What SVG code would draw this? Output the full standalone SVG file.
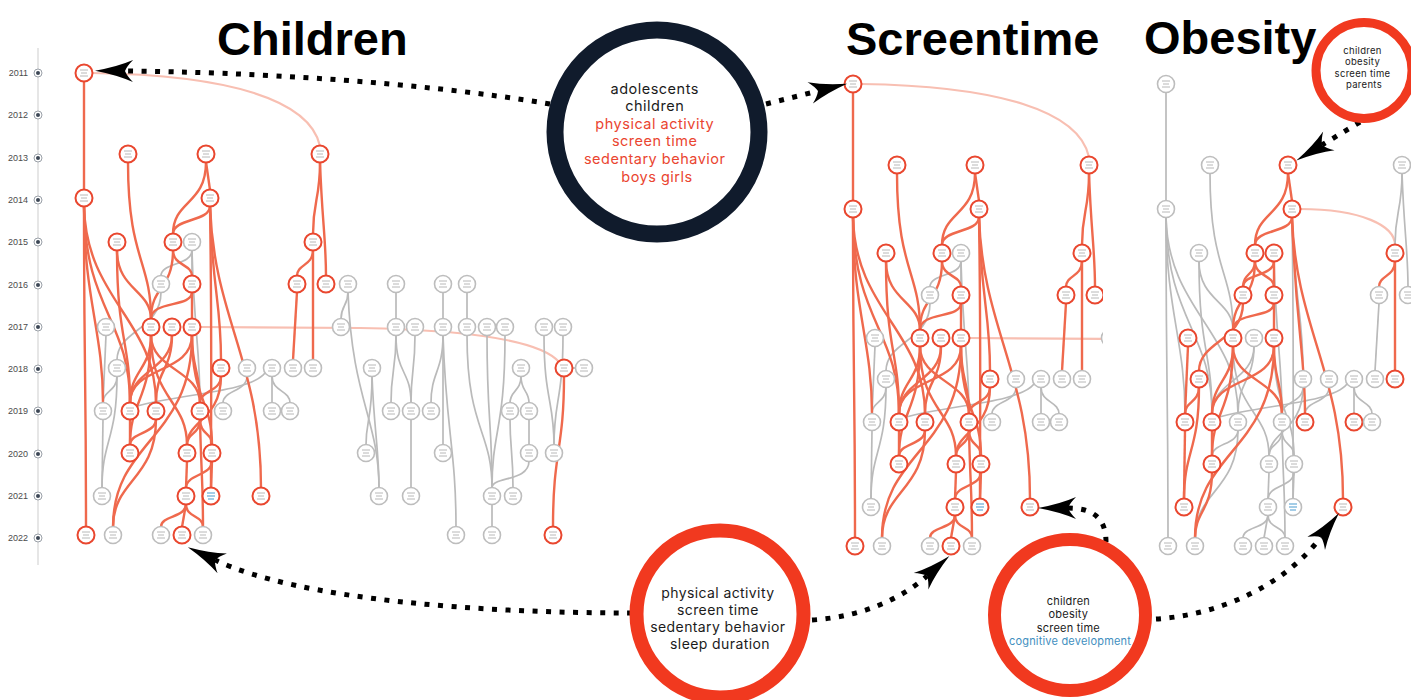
<svg xmlns="http://www.w3.org/2000/svg" width="1411" height="700" viewBox="0 0 1411 700">
<style>
.r{fill:none;stroke:#ef694d;stroke-width:2.4}
.g{fill:none;stroke:#bababa;stroke-width:1.7}
.p{fill:none;stroke:#f8bfb2;stroke-width:2.2}
.nr{stroke:#e9472f;stroke-width:2}
.ng{stroke:#bdbdbd;stroke-width:1.6}
.dot{fill:none;stroke:#000;stroke-width:5;stroke-dasharray:5 8.5;marker-end:url(#ah)}
.ttl{font-family:"Liberation Sans",Arial,Helvetica,sans-serif;font-weight:700;font-size:47px;fill:#000}
.yr{font-family:"Liberation Sans",Arial,sans-serif;font-size:9px;fill:#4b4b4b;text-anchor:end}
.bt{font-family:Inter,"Liberation Sans",sans-serif;text-anchor:middle}
.dk{fill:#1b1b1b}
.rd{fill:#ea4530}
.bl{fill:#3f8fc0}
</style>
<defs>
<marker id="ah" viewBox="-10 -13 42 26" refX="0" refY="0" markerWidth="42" markerHeight="26" markerUnits="userSpaceOnUse" orient="auto">
<path d="M30,0 Q8,-4 -8,-11 Q-2,-5 0,0 Q-2,5 -8,11 Q8,4 30,0 Z" fill="#000"/>
</marker>
<g id="nd"><circle r="8.5" fill="#fff"/><path d="M-4,-3h8M-3,0h6M-4,3h8" stroke="#b0b0b0" stroke-width="0.9"/></g>
<g id="ndb"><circle r="8.5" fill="#fff"/><path d="M-4,-3h8M-4,0h8M-3,3h6" stroke="#4a9bd0" stroke-width="1.2"/></g>
<clipPath id="cl2"><rect x="830" y="60" width="273" height="510"/></clipPath>
<clipPath id="cl3"><rect x="1135" y="60" width="276" height="510"/></clipPath>
<path id="e1" d="M84,81 L84,190"/>
<path id="e2" d="M84,206 C84,370 86,370 86,527"/>
<path id="e3" d="M84,206 C85,310 130,320 130,403"/>
<path id="e4" d="M84,206 C86,300 156,320 156,403"/>
<path id="e4b" d="M84,206 C84,300 103,330 103,403"/>
<path id="e6" d="M128,162 C128,260 151,260 151,319"/>
<path id="e7" d="M206,162 L210,190"/>
<path id="e8" d="M206,162 C206,205 173,200 173,234"/>
<path id="e9" d="M210,206 C210,222 173,218 173,234"/>
<path id="e10" d="M210,206 C212,290 221,300 221,360"/>
<path id="e11" d="M210,206 C212,330 211,380 211,488"/>
<path id="e12" d="M210,206 C214,320 261,360 261,488"/>
<path id="e13" d="M173,250 C173,290 151,285 151,319"/>
<path id="e14" d="M173,250 C173,266 192,264 192,276"/>
<path id="e15" d="M117,250 C117,290 151,290 151,319"/>
<path id="e16" d="M117,250 C117,340 130,340 130,403"/>
<path id="e17" d="M192,250 C192,266 161,262 161,276"/>
<path id="e18" d="M192,250 C194,330 200,350 200,403"/>
<path id="e19" d="M161,292 C161,330 117,330 117,360"/>
<path id="e20" d="M192,292 C192,308 151,300 151,319"/>
<path id="e21" d="M192,292 L192,319"/>
<path id="e22" d="M106,335 L103,403"/>
<path id="e23" d="M117,376 C117,392 103,390 103,403"/>
<path id="e23b" d="M117,376 C117,440 102,440 102,488"/>
<path id="e24" d="M103,419 L102,488"/>
<path id="e25" d="M151,335 C151,370 130,370 130,403"/>
<path id="e26" d="M151,335 C151,370 200,370 200,403"/>
<path id="e27" d="M151,335 C151,400 187,400 187,445"/>
<path id="e28" d="M151,335 C151,400 130,400 130,445"/>
<path id="e29" d="M172,335 C172,370 130,370 130,403"/>
<path id="e30" d="M172,335 C172,370 156,370 156,403"/>
<path id="e31" d="M192,335 C192,375 130,365 130,403"/>
<path id="e32" d="M192,335 C192,440 113,440 113,527"/>
<path id="e33" d="M192,335 C192,370 200,370 200,403"/>
<path id="e34" d="M192,335 C192,400 212,400 212,445"/>
<path id="e35" d="M221,376 C221,392 200,390 200,403"/>
<path id="e36" d="M221,376 C221,420 187,420 187,445"/>
<path id="e37" d="M200,419 C200,435 187,432 187,445"/>
<path id="e38" d="M200,419 C200,435 212,432 212,445"/>
<path id="e39" d="M187,461 L186,488"/>
<path id="e40" d="M212,461 C212,476 186,474 186,488"/>
<path id="e41" d="M212,461 L211,488"/>
<path id="e42" d="M186,504 C186,518 161,515 161,527"/>
<path id="e43" d="M186,504 L182,527"/>
<path id="e44" d="M186,504 C186,518 203,515 203,527"/>
<path id="e45" d="M130,419 L130,445"/>
<path id="e46" d="M137,406 C180,394 250,392 265,373"/>
<path id="e47" d="M156,419 C156,434 130,432 130,445"/>
<path id="e48" d="M156,419 C156,480 113,480 113,527"/>
<path id="e49" d="M200,419 C201,470 203,480 203,527"/>
<path id="e50" d="M247,376 C247,392 223,390 223,403"/>
<path id="e51" d="M210,206 C214,320 223,340 223,403"/>
<path id="e52" d="M272,376 L272,403"/>
<path id="e53" d="M272,376 C272,392 290,390 290,403"/>
<path id="e54" d="M313,250 C313,266 297,264 297,276"/>
<path id="e55" d="M313,250 L313,360"/>
<path id="e56" d="M297,292 L293,360"/>
<path id="e57" d="M320,162 C320,200 313,200 313,234"/>
<path id="e58" d="M320,162 C322,220 326,240 326,276"/>
<path id="e60" d="M192,250 L192,276"/>
<path id="e61" d="M173,250 C173,264 161,262 161,276"/>
<path id="e62" d="M130,461 C130,500 113,500 113,527"/>
<path id="p1" d="M92,73 C230,75 310,100 320,146"/>
<path id="p2" d="M200,327 L360,328 C470,330 540,340 559,362"/>
<path id="p3" d="M218,198 C280,198 313,215 313,234"/>
</defs>
<rect width="1411" height="700" fill="#fff"/>

<g id="titles">
<text class="ttl" x="217" y="55">Children</text>
<text class="ttl" x="846" y="55">Screentime</text>
<text class="ttl" x="1144" y="54">Obesity</text>
</g>

<g id="year-axis">
<line x1="38" y1="48" x2="38" y2="565" stroke="#e6e6e6" stroke-width="2"/>
<g fill="#fff" stroke="#9aa0a8" stroke-width="1">
<circle cx="38" cy="73" r="4"/><circle cx="38" cy="115" r="4"/><circle cx="38" cy="158" r="4"/><circle cx="38" cy="200" r="4"/><circle cx="38" cy="242" r="4"/><circle cx="38" cy="285" r="4"/><circle cx="38" cy="327" r="4"/><circle cx="38" cy="369" r="4"/><circle cx="38" cy="411" r="4"/><circle cx="38" cy="454" r="4"/><circle cx="38" cy="496" r="4"/><circle cx="38" cy="538" r="4"/>
</g>
<g fill="#3d4756">
<circle cx="38" cy="73" r="2"/><circle cx="38" cy="115" r="2"/><circle cx="38" cy="158" r="2"/><circle cx="38" cy="200" r="2"/><circle cx="38" cy="242" r="2"/><circle cx="38" cy="285" r="2"/><circle cx="38" cy="327" r="2"/><circle cx="38" cy="369" r="2"/><circle cx="38" cy="411" r="2"/><circle cx="38" cy="454" r="2"/><circle cx="38" cy="496" r="2"/><circle cx="38" cy="538" r="2"/>
</g>
<text class="yr" x="28" y="76">2011</text><text class="yr" x="28" y="118">2012</text><text class="yr" x="28" y="161">2013</text><text class="yr" x="28" y="203">2014</text><text class="yr" x="28" y="245">2015</text><text class="yr" x="28" y="288">2016</text><text class="yr" x="28" y="330">2017</text><text class="yr" x="28" y="372">2018</text><text class="yr" x="28" y="414">2019</text><text class="yr" x="28" y="457">2020</text><text class="yr" x="28" y="499">2021</text><text class="yr" x="28" y="541">2022</text>
</g>

<g id="g12">
<g id="conn-children">
<use href="#p1" class="p"/><use href="#p2" class="p"/>
<use href="#e17" class="g"/><use href="#e18" class="g"/><use href="#e19" class="g"/><use href="#e22" class="g"/><use href="#e23" class="g"/><use href="#e23b" class="g"/><use href="#e24" class="g"/><use href="#e46" class="g"/><use href="#e50" class="g"/><use href="#e52" class="g"/><use href="#e53" class="g"/><use href="#e60" class="g"/>
<path class="g" d="M348,292 C348,306 341,305 341,319"/>
<path class="g" d="M348,292 C352,400 379,420 379,488"/>
<path class="g" d="M372,376 C372,420 366,420 366,445"/>
<path class="g" d="M372,376 C374,430 379,450 379,488"/>
<path class="g" d="M396,292 L396,319"/>
<path class="g" d="M396,335 C396,375 411,370 411,403"/>
<path class="g" d="M396,335 C396,370 391,370 391,403"/>
<path class="g" d="M415,335 C415,370 411,370 411,403"/>
<path class="g" d="M411,419 L411,488"/>
<path class="g" d="M443,292 L443,319"/>
<path class="g" d="M443,335 C443,372 431,372 431,403"/>
<path class="g" d="M443,335 L443,445"/>
<path class="g" d="M443,335 C446,430 456,450 456,527"/>
<path class="g" d="M467,292 L467,319"/>
<path class="g" d="M467,335 C467,430 492,430 492,488"/>
<path class="g" d="M487,335 C487,420 492,420 492,488"/>
<path class="g" d="M505,335 C505,430 492,430 492,488"/>
<path class="g" d="M521,376 C521,392 510,390 510,403"/>
<path class="g" d="M521,376 C521,392 529,390 529,403"/>
<path class="g" d="M529,419 L529,445"/>
<path class="g" d="M529,461 C529,482 492,476 492,488"/>
<path class="g" d="M510,419 C510,450 513,450 513,488"/>
<path class="g" d="M492,504 L492,527"/>
<path class="g" d="M544,335 C544,400 554,400 554,445"/>
<path class="g" d="M563,335 C563,400 554,400 554,445"/>
<path class="g" d="M572,368 L576,368"/>
<use href="#e1" class="r"/><use href="#e2" class="r"/><use href="#e3" class="r"/><use href="#e4" class="r"/><use href="#e4b" class="r"/><use href="#e6" class="r"/><use href="#e7" class="r"/><use href="#e8" class="r"/><use href="#e9" class="r"/><use href="#e10" class="r"/><use href="#e11" class="r"/><use href="#e12" class="r"/><use href="#e13" class="r"/><use href="#e14" class="r"/><use href="#e15" class="r"/><use href="#e16" class="r"/><use href="#e20" class="r"/><use href="#e21" class="r"/><use href="#e25" class="r"/><use href="#e26" class="r"/><use href="#e27" class="r"/><use href="#e28" class="r"/><use href="#e29" class="r"/><use href="#e30" class="r"/><use href="#e31" class="r"/><use href="#e32" class="r"/><use href="#e33" class="r"/><use href="#e34" class="r"/><use href="#e35" class="r"/><use href="#e36" class="r"/><use href="#e37" class="r"/><use href="#e38" class="r"/><use href="#e39" class="r"/><use href="#e40" class="r"/><use href="#e41" class="r"/><use href="#e42" class="r"/><use href="#e43" class="r"/><use href="#e44" class="r"/><use href="#e45" class="r"/><use href="#e47" class="r"/><use href="#e48" class="r"/><use href="#e49" class="r"/><use href="#e54" class="r"/><use href="#e55" class="r"/><use href="#e56" class="r"/><use href="#e57" class="r"/><use href="#e58" class="r"/>
<path class="r" d="M564,376 C564,450 553,450 553,527"/>
</g>
<g id="nodes-children">
<use id="c-A" href="#nd" x="84" y="73" class="nr"/>
<use id="c-B" href="#nd" x="128" y="154" class="nr"/>
<use id="c-C" href="#nd" x="206" y="154" class="nr"/>
<use id="c-D" href="#nd" x="320" y="154" class="nr"/>
<use id="c-E" href="#nd" x="84" y="198" class="nr"/>
<use id="c-F" href="#nd" x="210" y="198" class="nr"/>
<use id="c-G" href="#nd" x="117" y="242" class="nr"/>
<use id="c-H" href="#nd" x="173" y="242" class="nr"/>
<use id="c-I" href="#nd" x="192" y="242" class="ng"/>
<use id="c-J" href="#nd" x="313" y="242" class="nr"/>
<use id="c-K" href="#nd" x="161" y="284" class="ng"/>
<use id="c-L" href="#nd" x="192" y="284" class="nr"/>
<use id="c-M" href="#nd" x="297" y="284" class="nr"/>
<use id="c-N" href="#nd" x="326" y="284" class="nr"/>
<use id="c-O" href="#nd" x="348" y="284" class="ng"/>
<use id="c-P" href="#nd" x="396" y="284" class="ng"/>
<use id="c-Q" href="#nd" x="443" y="284" class="ng"/>
<use id="c-R" href="#nd" x="467" y="284" class="ng"/>
<use id="c-S" href="#nd" x="106" y="327" class="ng"/>
<use id="c-T" href="#nd" x="151" y="327" class="nr"/>
<use id="c-U" href="#nd" x="172" y="327" class="nr"/>
<use id="c-V" href="#nd" x="192" y="327" class="nr"/>
<use id="c-W" href="#nd" x="341" y="327" class="ng"/>
<use id="c-X" href="#nd" x="396" y="327" class="ng"/>
<use id="c-Y" href="#nd" x="415" y="327" class="ng"/>
<use id="c-Z" href="#nd" x="443" y="327" class="ng"/>
<use id="c-AA" href="#nd" x="467" y="327" class="ng"/>
<use id="c-AB" href="#nd" x="487" y="327" class="ng"/>
<use id="c-AC" href="#nd" x="505" y="327" class="ng"/>
<use id="c-AD" href="#nd" x="544" y="327" class="ng"/>
<use id="c-AE" href="#nd" x="563" y="327" class="ng"/>
<use id="c-AF" href="#nd" x="117" y="368" class="ng"/>
<use id="c-AG" href="#nd" x="221" y="368" class="nr"/>
<use id="c-AH" href="#nd" x="247" y="368" class="ng"/>
<use id="c-AI" href="#nd" x="272" y="368" class="ng"/>
<use id="c-AJ" href="#nd" x="293" y="368" class="ng"/>
<use id="c-AK" href="#nd" x="313" y="368" class="ng"/>
<use id="c-AL" href="#nd" x="372" y="368" class="ng"/>
<use id="c-AM" href="#nd" x="521" y="368" class="ng"/>
<use id="c-AN" href="#nd" x="564" y="368" class="nr"/>
<use id="c-AO" href="#nd" x="584" y="368" class="ng"/>
<use id="c-AP" href="#nd" x="103" y="411" class="ng"/>
<use id="c-AQ" href="#nd" x="130" y="411" class="nr"/>
<use id="c-AR" href="#nd" x="156" y="411" class="nr"/>
<use id="c-AS" href="#nd" x="200" y="411" class="nr"/>
<use id="c-AT" href="#nd" x="223" y="411" class="ng"/>
<use id="c-AU" href="#nd" x="272" y="411" class="ng"/>
<use id="c-AV" href="#nd" x="290" y="411" class="ng"/>
<use id="c-AW" href="#nd" x="391" y="411" class="ng"/>
<use id="c-AX" href="#nd" x="411" y="411" class="ng"/>
<use id="c-AY" href="#nd" x="431" y="411" class="ng"/>
<use id="c-AZ" href="#nd" x="510" y="411" class="ng"/>
<use id="c-BA" href="#nd" x="529" y="411" class="ng"/>
<use id="c-BB" href="#nd" x="130" y="453" class="nr"/>
<use id="c-BC" href="#nd" x="187" y="453" class="nr"/>
<use id="c-BD" href="#nd" x="212" y="453" class="nr"/>
<use id="c-BE" href="#nd" x="366" y="453" class="ng"/>
<use id="c-BF" href="#nd" x="443" y="453" class="ng"/>
<use id="c-BG" href="#nd" x="529" y="453" class="ng"/>
<use id="c-BH" href="#nd" x="554" y="453" class="ng"/>
<use id="c-BI" href="#nd" x="102" y="496" class="ng"/>
<use id="c-BJ" href="#nd" x="186" y="496" class="nr"/>
<use id="c-BK" href="#ndb" x="211" y="496" class="nr"/>
<use id="c-BL" href="#nd" x="261" y="496" class="nr"/>
<use id="c-BM" href="#nd" x="379" y="496" class="ng"/>
<use id="c-BN" href="#nd" x="411" y="496" class="ng"/>
<use id="c-BO" href="#nd" x="492" y="496" class="ng"/>
<use id="c-BP" href="#nd" x="513" y="496" class="ng"/>
<use id="c-BQ" href="#nd" x="86" y="535" class="nr"/>
<use id="c-BR" href="#nd" x="113" y="535" class="ng"/>
<use id="c-BS" href="#nd" x="161" y="535" class="ng"/>
<use id="c-BT" href="#nd" x="182" y="535" class="nr"/>
<use id="c-BU" href="#nd" x="203" y="535" class="ng"/>
<use id="c-BV" href="#nd" x="456" y="535" class="ng"/>
<use id="c-BW" href="#nd" x="492" y="535" class="ng"/>
<use id="c-BX" href="#nd" x="553" y="535" class="nr"/>
</g>
</g>

<g id="screentime-graph" clip-path="url(#cl2)">
<use href="#g12" transform="translate(769,11)"/>
</g>

<g id="obesity-graph" clip-path="url(#cl3)">
<g transform="translate(1082,11)">
<g id="conn-obesity">
<use href="#p3" class="p"/>
<use href="#e1" class="g"/><use href="#e2" class="g"/><use href="#e3" class="g"/><use href="#e4" class="g"/><use href="#e4b" class="g"/><use href="#e6" class="g"/><use href="#e10" class="g"/><use href="#e11" class="g"/><use href="#e15" class="g"/><use href="#e16" class="g"/><use href="#e18" class="g"/><use href="#e27" class="g"/><use href="#e29" class="g"/><use href="#e30" class="g"/><use href="#e34" class="g"/><use href="#e35" class="g"/><use href="#e36" class="g"/><use href="#e37" class="g"/><use href="#e38" class="g"/><use href="#e39" class="g"/><use href="#e40" class="g"/><use href="#e41" class="g"/><use href="#e42" class="g"/><use href="#e43" class="g"/><use href="#e44" class="g"/><use href="#e46" class="g"/><use href="#e47" class="g"/><use href="#e48" class="g"/><use href="#e49" class="g"/><use href="#e50" class="g"/><use href="#e52" class="g"/><use href="#e53" class="g"/><use href="#e56" class="g"/><use href="#e57" class="g"/><use href="#e58" class="g"/>
<use href="#e7" class="r"/><use href="#e8" class="r"/><use href="#e9" class="r"/><use href="#e12" class="r"/><use href="#e13" class="r"/><use href="#e14" class="r"/><use href="#e17" class="r"/><use href="#e19" class="r"/><use href="#e20" class="r"/><use href="#e21" class="r"/><use href="#e22" class="r"/><use href="#e23" class="r"/><use href="#e23b" class="r"/><use href="#e24" class="r"/><use href="#e25" class="r"/><use href="#e26" class="r"/><use href="#e28" class="r"/><use href="#e31" class="r"/><use href="#e32" class="r"/><use href="#e33" class="r"/><use href="#e45" class="r"/><use href="#e51" class="r"/><use href="#e54" class="r"/><use href="#e55" class="r"/><use href="#e60" class="r"/><use href="#e61" class="r"/><use href="#e62" class="r"/>
</g>
<g id="nodes-obesity">
<use id="o-A" href="#nd" x="84" y="73" class="ng"/>
<use id="o-B" href="#nd" x="128" y="154" class="ng"/>
<use id="o-C" href="#nd" x="206" y="154" class="nr"/>
<use id="o-D" href="#nd" x="320" y="154" class="ng"/>
<use id="o-E" href="#nd" x="84" y="198" class="ng"/>
<use id="o-F" href="#nd" x="210" y="198" class="nr"/>
<use id="o-G" href="#nd" x="117" y="242" class="ng"/>
<use id="o-H" href="#nd" x="173" y="242" class="nr"/>
<use id="o-I" href="#nd" x="192" y="242" class="nr"/>
<use id="o-J" href="#nd" x="313" y="242" class="nr"/>
<use id="o-K" href="#nd" x="161" y="284" class="nr"/>
<use id="o-L" href="#nd" x="192" y="284" class="nr"/>
<use id="o-M" href="#nd" x="297" y="284" class="ng"/>
<use id="o-N" href="#nd" x="326" y="284" class="ng"/>
<use id="o-S" href="#nd" x="106" y="327" class="nr"/>
<use id="o-T" href="#nd" x="151" y="327" class="nr"/>
<use id="o-U" href="#nd" x="172" y="327" class="ng"/>
<use id="o-V" href="#nd" x="192" y="327" class="nr"/>
<use id="o-AF" href="#nd" x="117" y="368" class="nr"/>
<use id="o-AG" href="#nd" x="221" y="368" class="ng"/>
<use id="o-AH" href="#nd" x="247" y="368" class="ng"/>
<use id="o-AI" href="#nd" x="272" y="368" class="ng"/>
<use id="o-AJ" href="#nd" x="293" y="368" class="ng"/>
<use id="o-AK" href="#nd" x="313" y="368" class="nr"/>
<use id="o-AP" href="#nd" x="103" y="411" class="nr"/>
<use id="o-AQ" href="#nd" x="130" y="411" class="nr"/>
<use id="o-AR" href="#nd" x="156" y="411" class="ng"/>
<use id="o-AS" href="#nd" x="200" y="411" class="ng"/>
<use id="o-AT" href="#nd" x="223" y="411" class="nr"/>
<use id="o-AU" href="#nd" x="272" y="411" class="nr"/>
<use id="o-AV" href="#nd" x="290" y="411" class="ng"/>
<use id="o-BB" href="#nd" x="130" y="453" class="nr"/>
<use id="o-BC" href="#nd" x="187" y="453" class="ng"/>
<use id="o-BD" href="#nd" x="212" y="453" class="ng"/>
<use id="o-BI" href="#nd" x="102" y="496" class="nr"/>
<use id="o-BJ" href="#nd" x="186" y="496" class="ng"/>
<use id="o-BK" href="#ndb" x="211" y="496" class="ng"/>
<use id="o-BL" href="#nd" x="261" y="496" class="nr"/>
<use id="o-BQ" href="#nd" x="86" y="535" class="ng"/>
<use id="o-BR" href="#nd" x="113" y="535" class="ng"/>
<use id="o-BS" href="#nd" x="161" y="535" class="ng"/>
<use id="o-BT" href="#nd" x="182" y="535" class="ng"/>
<use id="o-BU" href="#nd" x="203" y="535" class="ng"/>
</g>
</g>
</g>

<g id="callout-connectors">
<path class="dot" d="M550,104 C420,82 250,72 125,71"/>
<path class="dot" d="M766,104 L818,91"/>
<path class="dot" d="M632,613 C480,613 300,600 215,560"/>
<path class="dot" d="M812,620 C860,617 900,600 927,576"/>
<path class="dot" d="M1106,542 C1106,520 1095,508 1068,508"/>
<path class="dot" d="M1156,619 C1220,615 1285,585 1321,537"/>
<path class="dot" d="M1360,122 L1322,145"/>
</g>

<g id="topic-children-adolescents">
<circle cx="657" cy="132" r="102" fill="#fff" stroke="#101b2c" stroke-width="17"/>
<text class="bt" font-size="14.5" letter-spacing="0.5">
<tspan class="dk" x="657" y="93.5">adolescents</tspan>
<tspan class="dk" x="657" y="111.1">children</tspan>
<tspan class="rd" x="657" y="128.7">physical activity</tspan>
<tspan class="rd" x="657" y="146.3">screen time</tspan>
<tspan class="rd" x="657" y="163.9">sedentary behavior</tspan>
<tspan class="rd" x="657" y="181.5">boys girls</tspan>
</text>
</g>

<g id="topic-sleep">
<circle cx="720" cy="614" r="83.5" fill="#fff" stroke="#f1391f" stroke-width="14"/>
<text class="bt dk" font-size="14" letter-spacing="0.4" fill="#2b2b2b">
<tspan x="720" y="597.5">physical activity</tspan>
<tspan x="720" y="614.5">screen time</tspan>
<tspan x="720" y="631.5">sedentary behavior</tspan>
<tspan x="720" y="648.5">sleep duration</tspan>
</text>
</g>

<g id="topic-cognitive">
<circle cx="1070" cy="615" r="75.5" fill="#fff" stroke="#f1391f" stroke-width="13"/>
<text class="bt" font-size="11" letter-spacing="0.2">
<tspan class="dk" x="1070" y="605">children</tspan>
<tspan class="dk" x="1070" y="618.4">obesity</tspan>
<tspan class="dk" x="1070" y="631.8">screen time</tspan>
<tspan class="bl" x="1070" y="645.2">cognitive development</tspan>
</text>
</g>

<g id="topic-parents">
<circle cx="1364" cy="70.5" r="48" fill="#fff" stroke="#f1391f" stroke-width="9"/>
<text class="bt dk" font-size="9.5" letter-spacing="0.3">
<tspan x="1364" y="53.5">children</tspan>
<tspan x="1364" y="65.1">obesity</tspan>
<tspan x="1364" y="76.7">screen time</tspan>
<tspan x="1364" y="88.3">parents</tspan>
</text>
</g>
</svg>
